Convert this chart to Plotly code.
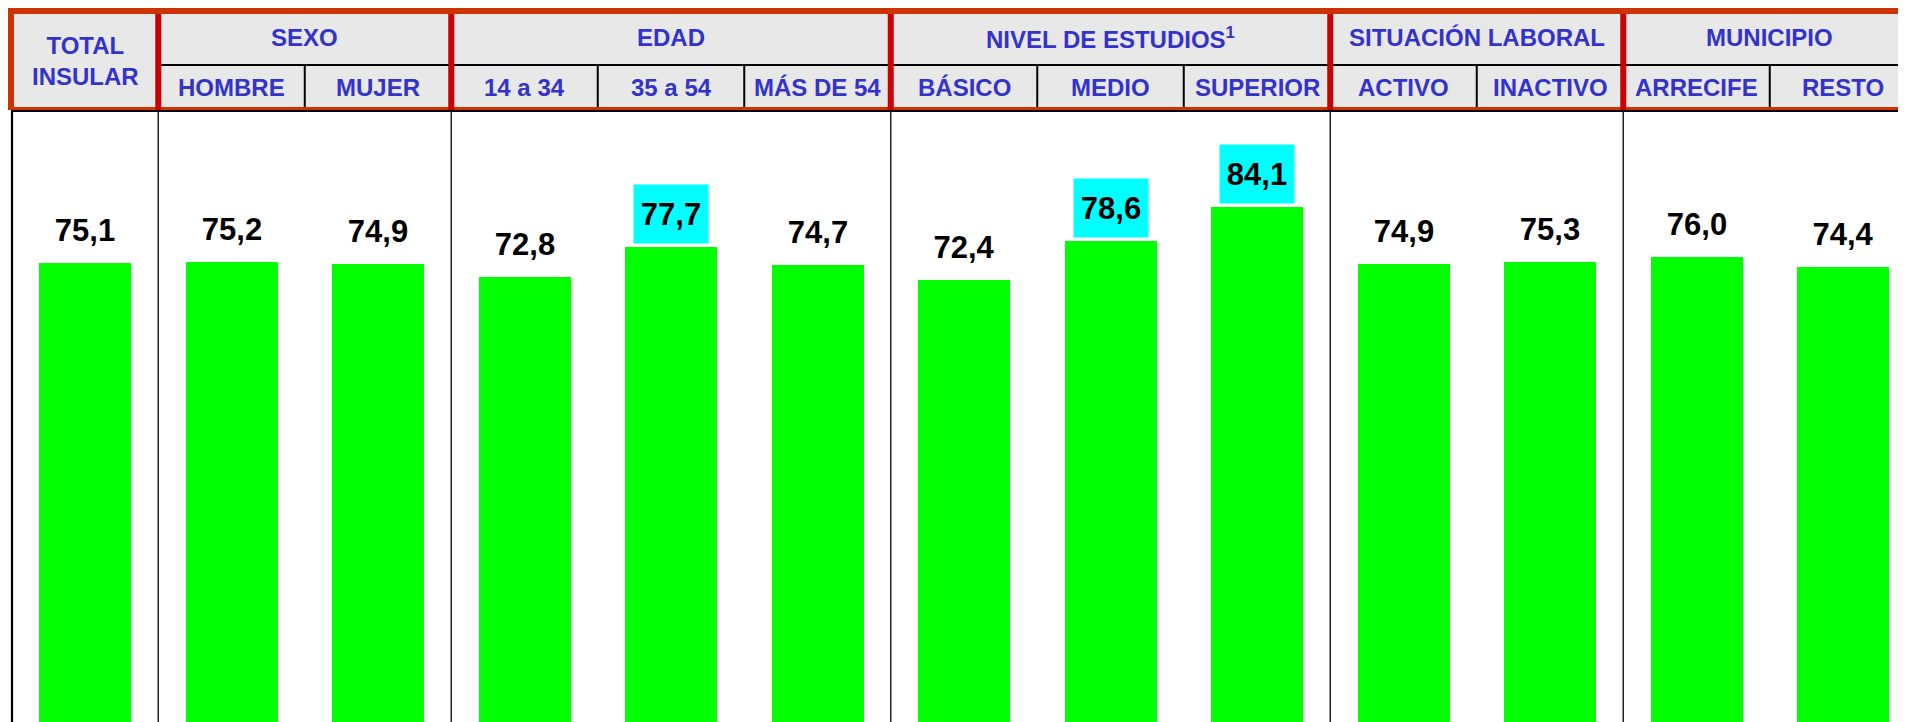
import plotly.graph_objects as go

# ---- data ----
categories = ["TOTAL INSULAR", "HOMBRE", "MUJER", "14 a 34", "35 a 54", "MÁS DE 54",
              "BÁSICO", "MEDIO", "SUPERIOR", "ACTIVO", "INACTIVO", "ARRECIFE", "RESTO"]
values = [75.1, 75.2, 74.9, 72.8, 77.7, 74.7, 72.4, 78.6, 84.1, 74.9, 75.3, 76.0, 74.4]
highlighted = ["35 a 54", "MEDIO", "SUPERIOR"]

groups = ["TOTAL<br>INSULAR", "SEXO", "EDAD", "NIVEL DE ESTUDIOS<sup>1</sup>",
          "SITUACIÓN LABORAL", "MUNICIPIO"]
group_sizes = [1, 2, 3, 3, 2, 2]
sub_labels = ["", "HOMBRE", "MUJER", "14 a 34", "35 a 54", "MÁS DE 54",
              "BÁSICO", "MEDIO", "SUPERIOR", "ACTIVO", "INACTIVO", "ARRECIFE", "RESTO"]

# the page body adds an 8px margin, so the figure sits at (8, 8)
W, H = 1898, 714
FONT = "Liberation Sans, Arial, Helvetica, sans-serif"
BLUE = "#3333CC"
ORANGE_RED = "#CC3300"
RED = "#CC0000"
GRAY = "#E8E8E8"


def py(p):
    """figure pixel y (from top) -> paper y"""
    return 1 - p / H


def px(p):
    return p / W


x_idx = list(range(len(categories)))

fig = go.Figure()
fig.add_trace(go.Bar(
    x=x_idx, y=values, width=0.628,
    marker=dict(color="#00FF00", line=dict(width=0)),
    hoverinfo="skip", showlegend=False,
))

annotations = []
# value labels
for i, (c, v) in enumerate(zip(categories, values)):
    annotations.append(dict(
        x=i, y=v, xref="x", yref="y",
        text=f"{v:.1f}".replace(".", ","),
        showarrow=False, yanchor="bottom", xanchor="center", yshift=3,
        width=74, height=58, borderpad=0,
        bgcolor="#00FFFF" if c in highlighted else "rgba(0,0,0,0)",
        font=dict(family=FONT, size=31, color="black", weight="bold"),
    ))

shapes = []
# header background
shapes.append(dict(type="rect", xref="paper", yref="paper",
                   x0=0, x1=1, y0=py(102), y1=1,
                   fillcolor=GRAY, line=dict(width=0), layer="above"))
# outer orange-red border (top, left, bottom)
shapes.append(dict(type="rect", xref="paper", yref="paper",
                   x0=0, x1=1, y0=py(6), y1=1,
                   fillcolor=ORANGE_RED, line=dict(width=0), layer="above"))
shapes.append(dict(type="rect", xref="paper", yref="paper",
                   x0=0, x1=px(6), y0=py(102), y1=1,
                   fillcolor=ORANGE_RED, line=dict(width=0), layer="above"))
shapes.append(dict(type="rect", xref="paper", yref="paper",
                   x0=0, x1=1, y0=py(102), y1=py(99),
                   fillcolor=ORANGE_RED, line=dict(width=0), layer="above"))
# black line under header
shapes.append(dict(type="rect", xref="paper", yref="paper",
                   x0=px(3), x1=1, y0=py(104), y1=py(102),
                   fillcolor="black", line=dict(width=0), layer="above"))
# middle horizontal black line (group row / sub row)
shapes.append(dict(type="line", xref="x", yref="paper",
                   x0=0.5, x1=13, y0=py(57), y1=py(57),
                   line=dict(color="black", width=2.2), layer="above"))

# group boundaries
bounds = []
acc = 0
for s in group_sizes:
    acc += s
    bounds.append(acc)
group_bounds = bounds[:-1]
for b in group_bounds:
    xb = b - 0.5
    # body line
    shapes.append(dict(type="line", xref="x", yref="paper",
                       x0=xb, x1=xb, y0=0, y1=py(103),
                       line=dict(color="#222222", width=1.5), layer="above"))
    # header red divider
    shapes.append(dict(type="line", xref="x", yref="paper",
                       x0=xb, x1=xb, y0=py(102), y1=py(6),
                       line=dict(color=RED, width=6), layer="above"))
# left body line
shapes.append(dict(type="line", xref="paper", yref="paper",
                   x0=px(4), x1=px(4), y0=0, y1=py(103),
                   line=dict(color="black", width=2.2), layer="above"))
# sub dividers
for i in range(1, len(categories)):
    if i in group_bounds:
        continue
    xb = i - 0.5
    shapes.append(dict(type="line", xref="x", yref="paper",
                       x0=xb, x1=xb, y0=py(99), y1=py(57),
                       line=dict(color="black", width=2), layer="above"))

# header texts
hfont = dict(family=FONT, size=24, color=BLUE, weight="bold")
start = 0
for g, s in zip(groups, group_sizes):
    center = start + (s - 1) / 2
    yc = 53 if s == 1 else 30
    annotations.append(dict(x=center, y=py(yc), xref="x", yref="paper",
                            text=g, showarrow=False, xanchor="center", yanchor="middle",
                            font=hfont))
    start += s
for i, lab in enumerate(sub_labels):
    if not lab:
        continue
    annotations.append(dict(x=i, y=py(79.5), xref="x", yref="paper",
                            text=lab, showarrow=False, xanchor="center", yanchor="middle",
                            font=hfont))

fig.update_layout(
    width=W, height=H,
    margin=dict(l=0, r=0, t=0, b=0),
    paper_bgcolor="white", plot_bgcolor="white",
    xaxis=dict(range=[-0.5256, 12.430], visible=False, fixedrange=True),
    yaxis=dict(range=[1.286, 116.08], visible=False, fixedrange=True),
    shapes=shapes,
    annotations=annotations,
    bargap=0,
)

fig.write_html("out.html", config={"displayModeBar": False})
